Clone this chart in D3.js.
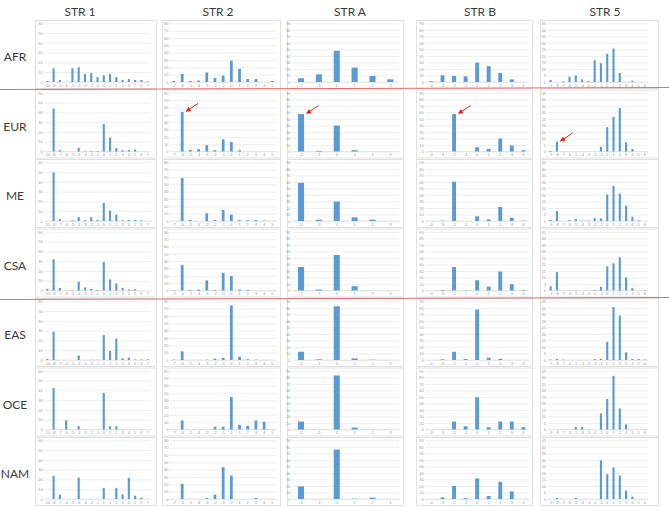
<!DOCTYPE html>
<html lang="en">
<head>
  <meta charset="utf-8">
  <title>STR distributions by region</title>
  <script src="https://d3js.org/d3.v7.min.js"></script>
  <style>
    body { margin: 0; background: #fff; }
    .head, .region { font-family: Lato, 'Open Sans', sans-serif; font-size: 12px; fill: #3a3a3a; }
    .tick-label { font-family: 'Liberation Sans', sans-serif; font-size: 4px; fill: #9a9a9a; }
  </style>
</head>
<body>
<div id="chart"></div>
<script>

  // ---- data ----
  var regions = ['AFR', 'EUR', 'ME', 'CSA', 'EAS', 'OCE', 'NAM'];

  var str1Cats = ['-10', '-8', '-7', '-6', '-5', '-4', '-3', '-2', '-1', '0', '1', '2', '3', '4', '5', '6', '7'];
  var str2Cats = ['-7', '-6', '-5', '-4', '-3', '-2', '-1', '0', '1', '2', '3', '4', '5'];
  var strACats = ['-2', '-1', '0', '1', '2', '3'];
  var strBCats = ['-4', '-3', '-2', '-1', '0', '1', '2', '3', '4'];
  var str5Cats = ['-9', '-8', '-7', '-6', '-5', '-4', '-3', '-2', '-1', '0', '1', '2', '3', '4', '5', '6'];

  var str1Ticks = [0, 10, 20, 30, 40, 50, 60];
  var str2Ticks = [0, 10, 20, 30, 40, 50, 60, 70, 80];
  var strATicks = [0, 10, 20, 30, 40, 50, 60, 70, 80, 90];
  var strBTicks = [0, 10, 20, 30, 40, 50, 60, 70, 80, 90];
  var str5Ticks = [0, 5, 10, 15, 20, 25, 30, 35, 40, 45];

  // one row per region, same order as regions
  var str1Values = [
    [1, 14, 2, 0, 14, 15, 8, 9, 5, 7, 8, 5, 2, 3, 2, 2, 0.5],
    [0, 44, 1.4, 0, 0, 3.7, 0.3, 0.5, 0.5, 28, 14, 3.4, 1.4, 1.7, 2, 0, 0],
    [0, 49.7, 2, 0, 0.7, 4.1, 0.7, 3.8, 1, 18.5, 10.6, 6.5, 0.7, 1, 1, 0.7, 0],
    [1.7, 31.9, 2.7, 0, 0.3, 8.9, 3, 1.7, 0.7, 29, 11.3, 7.2, 2.7, 1, 1.4, 0, 0],
    [1, 28.8, 0, 0, 0, 4.5, 0, 0.3, 0.3, 25.4, 9.3, 21.9, 1.7, 2.4, 0.5, 0.5, 0.7],
    [0, 42.5, 0, 9.3, 0, 3.4, 0, 0, 0, 37.4, 3.4, 3.4, 0, 0, 0, 0, 0],
    [0, 23.7, 4.5, 0, 0, 21.9, 0, 0, 0, 11.3, 0, 11.3, 4.8, 21.6, 3.4, 1.4, 0]
  ];
  var str2Values = [
    [1.4, 11, 1.4, 2, 13, 5.5, 8.7, 29, 18, 4, 4, 0, 1.4],
    [0, 54, 2.3, 3.2, 8.6, 1.8, 16.7, 13, 1.8, 0, 0, 0, 0],
    [0, 58.5, 1.4, 0, 10.5, 1.4, 15, 8.7, 1, 1, 1.4, 0.5, 0],
    [0.5, 34.7, 1, 1.4, 13.7, 1, 24.2, 19.7, 1.4, 1, 0, 0, 0],
    [0.5, 11.9, 0, 0, 0.5, 1.8, 2.7, 74.5, 4.6, 0.9, 0.5, 0, 0],
    [0, 12.3, 0, 0, 0, 3.7, 3.7, 44.3, 6.4, 5, 12.3, 10.5, 0],
    [0, 20.6, 0, 0, 1.4, 5.9, 43.4, 32, 0, 0, 1.4, 0, 0]
  ];
  var strAValues = [
    [5.7, 11.8, 47.8, 22.1, 9.3, 4.1],
    [57.4, 1, 39.7, 2, 0, 0],
    [58.5, 2, 30, 5.6, 2, 0],
    [36, 1.5, 54.4, 6.6, 0, 0],
    [12.7, 1, 82.4, 2.5, 0.5, 0],
    [12.2, 0, 82.9, 3, 0, 0],
    [19.3, 0, 75.7, 0.5, 2, 0]
  ];
  var strBValues = [
    [1, 10.3, 9.3, 8.7, 29.8, 24.2, 13.9, 4, 0],
    [0, 0, 57.4, 0, 6.6, 4, 19.8, 9.2, 2],
    [0, 0.5, 60, 0, 7.1, 2.5, 21.4, 5, 0.5],
    [0, 1, 36, 0.5, 15.8, 6.1, 29, 9.7, 1],
    [0, 1, 12.7, 1.5, 77.3, 3.6, 2, 0, 0],
    [0, 0, 12.2, 5, 49.3, 3.6, 12.2, 12.2, 3.6],
    [0, 2.5, 19.8, 1.5, 31.5, 4.6, 26.4, 11.7, 0]
  ];
  var str5Values = [
    [1.5, 0, 0.5, 4, 5, 2, 0.8, 16.7, 14.4, 21.6, 25.7, 6.9, 0, 1, 0, 0],
    [0.5, 7.6, 0, 0, 0, 0, 0, 0, 3.6, 18.6, 26.5, 33.3, 7.1, 2, 0, 0],
    [0.8, 7.7, 0, 0.8, 1.5, 0.3, 0.3, 2.3, 2, 20.3, 27, 21, 11.8, 3.3, 0.5, 0],
    [3.3, 14.1, 0, 0, 0.3, 0, 0, 0.5, 2.8, 18.5, 20.8, 25.5, 10, 1.8, 0, 0.3],
    [0.3, 0.8, 0.3, 0, 0, 0, 0, 0.8, 0.8, 13.9, 40.6, 34, 5.9, 0.8, 0.8, 0.3],
    [0, 0, 0, 0, 2, 2, 0, 0, 12.3, 23.4, 41.1, 16.2, 3.9, 0, 0, 0],
    [0, 0.8, 0, 0, 0.8, 0, 0, 0, 29.6, 19, 24.2, 18, 6.4, 1.8, 0, 0]
  ];

  // marked bars in the EUR row: [column index, category]
  var arrowCol = [1, 2, 3, 4];
  var arrowCat = ['-6', '-2', '-2', '-8'];

  // ---- layout ----
  var W = 669, H = 507;
  var rowTop0 = 20, rowStep = 69.5, panelH = 68;
  var plotTopPad = 3.3, baseOff = 62;

  var columns = [
    { name: 'STR 1', cats: str1Cats, ticks: str1Ticks, values: str1Values, box: [35, 156], plot: [44.2, 150.8], hx: 80 },
    { name: 'STR 2', cats: str2Cats, ticks: str2Ticks, values: str2Values, box: [162, 280], plot: [169.9, 276.4], hx: 218 },
    { name: 'STR A', cats: strACats, ticks: strATicks, values: strAValues, box: [287, 403], plot: [292.1, 399.3], hx: 350 },
    { name: 'STR B', cats: strBCats, ticks: strBTicks, values: strBValues, box: [416, 532], plot: [425.2, 529.1], hx: 480 },
    { name: 'STR 5', cats: str5Cats, ticks: str5Ticks, values: str5Values, box: [540, 658], plot: [547.5, 648.1], hx: 605 }
  ];

  var svg = d3.select('#chart')
    .append('svg')
    .attr('width', W)
    .attr('height', H);

  // column headers
  svg.selectAll('.head')
    .data(columns)
    .enter()
    .append('text')
    .attr('class', 'head')
    .attr('x', function(d) { return d.hx; })
    .attr('y', 16)
    .attr('text-anchor', 'middle')
    .text(function(d) { return d.name; });

  // row labels
  svg.selectAll('.region')
    .data(regions)
    .enter()
    .append('text')
    .attr('class', 'region')
    .attr('x', 15)
    .attr('y', function(d, i) { return rowTop0 + i * rowStep + 38; })
    .attr('text-anchor', 'middle')
    .attr('dominant-baseline', 'middle')
    .text(function(d) { return d; });

  var scales = [];

  columns.forEach(function(col, c) {

    var xScale = d3.scaleBand()
      .domain(col.cats)
      .range(col.plot)
      .paddingInner(0.66)
      .paddingOuter(0.33);

    scales[c] = [];

    regions.forEach(function(reg, r) {

      var top = rowTop0 + r * rowStep;
      var yScale = d3.scaleLinear()
        .domain([0, d3.max(col.ticks)])
        .range([top + baseOff, top + plotTopPad]);

      scales[c][r] = { x: xScale, y: yScale };

      var g = svg.append('g').attr('class', 'panel');

      g.append('rect')
        .attr('x', col.box[0] + 0.5)
        .attr('y', top + 0.5)
        .attr('width', col.box[1] - col.box[0])
        .attr('height', panelH)
        .attr('fill', '#fff')
        .attr('stroke', '#d9d9d9')
        .attr('stroke-width', 0.8);

      var yAxis = d3.axisLeft(yScale)
        .tickValues(col.ticks)
        .tickSize(-(col.plot[1] - col.plot[0]))
        .tickPadding(1.5);

      var ya = g.append('g')
        .attr('transform', 'translate(' + col.plot[0] + ',0)')
        .call(yAxis);
      ya.select('.domain').remove();
      ya.selectAll('line').attr('stroke', '#e3e3e3').attr('stroke-width', 0.6);
      ya.selectAll('text').attr('class', 'tick-label').attr('font-size', null).attr('font-family', null).attr('fill', null);

      var xAxis = d3.axisBottom(xScale)
        .tickSize(0)
        .tickPadding(2);

      var xa = g.append('g')
        .attr('transform', 'translate(0,' + (top + baseOff) + ')')
        .call(xAxis);
      xa.select('.domain').attr('stroke', '#d9d9d9').attr('stroke-width', 0.6)
        .attr('d', 'M' + col.plot[0] + ',0H' + col.plot[1]);
      xa.selectAll('text').attr('class', 'tick-label').attr('font-size', null).attr('font-family', null).attr('fill', null);

      g.selectAll('.bar')
        .data(col.values[r])
        .enter()
        .append('rect')
        .attr('class', 'bar')
        .attr('x', function(d, i) { return xScale(col.cats[i]); })
        .attr('y', function(d) { return yScale(d); })
        .attr('width', xScale.bandwidth())
        .attr('height', function(d) { return yScale(0) - yScale(d); })
        .attr('fill', '#5b9bd5');
    });
  });

  // red separators
  var sepLines = [[0, 89.5, W, 87.5], [0, 299.5, W, 297.5]];
  svg.selectAll('.sep')
    .data(sepLines)
    .enter()
    .append('line')
    .attr('x1', function(d) { return d[0]; })
    .attr('y1', function(d) { return d[1]; })
    .attr('x2', function(d) { return d[2]; })
    .attr('y2', function(d) { return d[3]; })
    .attr('stroke', '#e86a6a')
    .attr('stroke-width', 1.2);

  // red arrows pointing to bars in the EUR row
  svg.append('defs').append('marker')
    .attr('id', 'head')
    .attr('viewBox', '0 0 10 10')
    .attr('refX', 9)
    .attr('refY', 5)
    .attr('markerWidth', 5)
    .attr('markerHeight', 5)
    .attr('orient', 'auto')
    .append('path')
    .attr('d', 'M0,0L10,5L0,10z')
    .attr('fill', '#e8211b');

  arrowCol.forEach(function(c, k) {
    var s = scales[c][1];
    var idx = columns[c].cats.indexOf(arrowCat[k]);
    var v = columns[c].values[1][idx];
    var tx = s.x(arrowCat[k]) + s.x.bandwidth() + 2.5;
    var ty = s.y(v) - 0.5;
    svg.append('line')
      .attr('x1', tx + 12)
      .attr('y1', ty - 8)
      .attr('x2', tx)
      .attr('y2', ty)
      .attr('stroke', '#e8211b')
      .attr('stroke-width', 1)
      .attr('marker-end', 'url(#head)');
  });

</script>
</body>
</html>
